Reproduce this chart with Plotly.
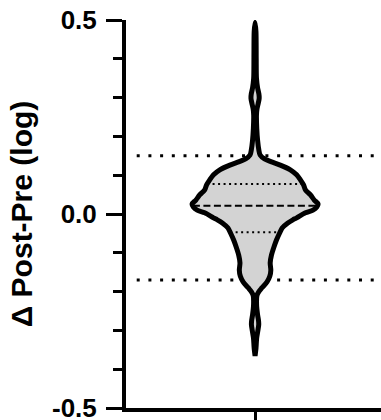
import numpy as np
import plotly.graph_objects as go

# ---- data ----
category = ["Δ"]
violin_y = [0.494, 0.47, 0.40, 0.35, 0.325, 0.31, 0.298, 0.285, 0.27, 0.255, 0.22, 0.19,
            0.165, 0.152, 0.142, 0.135, 0.126, 0.114, 0.101, 0.088, 0.075, 0.062, 0.049,
            0.036, 0.026, 0.018, 0.010, 0.003, -0.010, -0.015, -0.023, -0.036, -0.049,
            -0.067, -0.085, -0.106, -0.126, -0.145, -0.160, -0.175, -0.190, -0.200, -0.210,
            -0.235, -0.260, -0.275, -0.285, -0.300, -0.320, -0.345, -0.366]
violin_density = [0.0, 0.014, 0.018, 0.022, 0.04, 0.06, 0.065, 0.05, 0.03, 0.022, 0.027, 0.04,
                  0.06, 0.08, 0.15, 0.25, 0.40, 0.56, 0.66, 0.72, 0.77, 0.80, 0.88,
                  0.94, 1.0, 0.98, 0.92, 0.80, 0.66, 0.60, 0.52, 0.43, 0.39,
                  0.34, 0.30, 0.26, 0.24, 0.25, 0.235, 0.19, 0.11, 0.06, 0.03,
                  0.024, 0.04, 0.055, 0.058, 0.045, 0.025, 0.015, 0.0]
median = 0.021
quartiles = [0.077, -0.047]
ref_lines = [0.15, -0.17]
y_ticks = [-0.5, 0.0, 0.5]
y_tick_text = ["-0.5", "0.0", "0.5"]

FONT = "Liberation Sans, Arial, sans-serif"

vy = np.array(violin_y)
vd = np.array(violin_density)
half = vd / vd.max()

order = np.argsort(vy)
def width_at(v):
    return float(np.interp(v, vy[order], half[order]))

xs = np.concatenate([half, -half[::-1]])
ys = np.concatenate([vy, vy[::-1]])

fig = go.Figure()

# violin fill
fig.add_trace(go.Scatter(x=xs, y=ys, mode="lines", fill="toself",
                         fillcolor="rgba(211,211,211,1)",
                         line=dict(color="rgba(0,0,0,0)", width=0, shape="spline", smoothing=0.8),
                         hoverinfo="skip", showlegend=False))

# quartile / median lines
for q in quartiles:
    w = width_at(q)
    fig.add_trace(go.Scatter(x=[-w, w], y=[q, q], mode="lines",
                             line=dict(color="black", width=2, dash="2px,3.5px"),
                             hoverinfo="skip", showlegend=False))
w = width_at(median)
fig.add_trace(go.Scatter(x=[-w, w], y=[median, median], mode="lines",
                         line=dict(color="black", width=2, dash="7px,3.5px"),
                         hoverinfo="skip", showlegend=False))

# violin outline
fig.add_trace(go.Scatter(x=xs, y=ys, mode="lines",
                         line=dict(color="black", width=5, shape="spline", smoothing=0.8),
                         hoverinfo="skip", showlegend=False))

for r in ref_lines:
    fig.add_shape(type="line", xref="paper", yref="y", x0=0.042, x1=1.0, y0=r, y1=r,
                  line=dict(color="black", width=3, dash="3px,8.7px"), layer="below")

fig.update_layout(
    width=381, height=420,
    margin=dict(l=126, r=0, t=20, b=12, autoexpand=False),
    plot_bgcolor="white", paper_bgcolor="white",
    showlegend=False,
    font=dict(family=FONT, color="black"),
)
fig.update_xaxes(range=[-2.05, 2.0], showline=True, linecolor="black", linewidth=4,
                 showgrid=False, zeroline=False, ticks="outside", ticklen=12, tickwidth=3,
                 tickcolor="black", tickvals=[0], ticktext=[""], fixedrange=True,
                 automargin=False)
fig.update_yaxes(range=[-0.5, 0.5], showline=True, linecolor="black", linewidth=4,
                 showgrid=False, zeroline=False, ticks="outside", ticklen=16, tickwidth=3,
                 tickcolor="black", tickvals=y_ticks, ticktext=y_tick_text, automargin=False,
                 ticklabeloverflow="allow", ticklabelstandoff=4,
                 tickfont=dict(family=FONT, size=26, weight="bold", color="black"),
                 minor=dict(tickmode="linear", tick0=0, dtick=0.1, ticks="outside",
                            ticklen=9, tickwidth=3, tickcolor="black"),
                 title=dict(text="Δ Post-Pre (log)", standoff=11,
                            font=dict(family=FONT, size=30, weight="bold", color="black")))

fig.write_html("out.html", config={"displayModeBar": False},
               post_script="document.body.style.margin='0';document.body.style.overflow='hidden';")
